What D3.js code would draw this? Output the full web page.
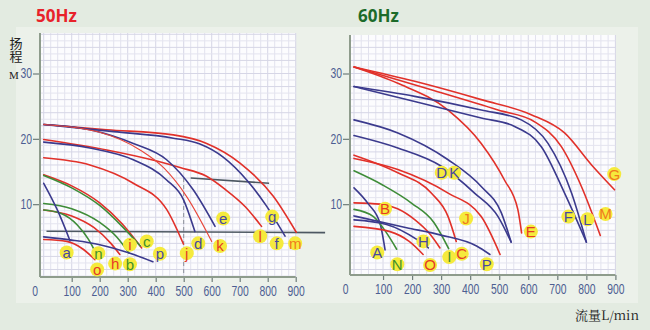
<!DOCTYPE html>
<html><head><meta charset="utf-8">
<script src="https://cdn.jsdelivr.net/npm/d3@7/dist/d3.min.js"></script>
<style>
body{margin:0;background:#e3ebe1;}
svg{display:block;}
</style></head><body>
<svg id="chart" width="650" height="330"></svg>
<script>
// ---------- data ----------
const qTicks = [0,100,200,300,400,500,600,700,800,900];
const hTicks = [10,20,30];
const panelTitles = ["50Hz","60Hz"];
const yTitle = ["扬程","M"];
const xTitle = "流量L/min";

// 50Hz curves (Q L/min, H m)
const hz50Names = ["m","f","l","e","k","d","j","i","c","b","h","n","o","p","a"];
const hz50Kinds = ["red","blue","red","blue","redThin","blue","red","red","green","green","red","green","red","blue","blue"];
const hz50Curves = [
  [[0,22.2],[225,21.4],[463,20.6],[582,19.3],[701,16.3],[820,11.2],[902,5.7]],
  [[0,22.2],[250,21.1],[463,20.1],[558,19.2],[641,17.2],[725,13.7],[796,9.7],[862,5.1]],
  [[0,19.9],[225,18.3],[404,16.6],[487,15.6],[580,14.3],[647,12.3],[720,9.6],[778,6.6]],
  [[0,22.2],[165,21.4],[320,19.3],[439,16.8],[534,12.2],[612,6.6]],
  [[0,22.2],[200,21.0],[344,18.3],[430,15.5],[510,11.2],[600,4.3]],
  [[0,19.5],[165,18.6],[320,16.8],[439,13.7],[499,10.7],[540,5.8]],
  [[0,17.1],[165,16.0],[320,13.2],[439,9.2],[499,3.9]],
  [[0,14.5],[100,12.8],[200,10.2],[280,7.0],[350,3.3]],
  [[0,14.4],[100,12.5],[200,9.8],[280,6.6],[345,3.6]],
  [[0,10.1],[100,9.3],[200,7.2],[260,5.0],[305,2.5]],
  [[0,9.1],[100,8.2],[180,6.4],[240,4.0],[272,2.3]],
  [[0,9.1],[60,8.6],[120,6.8],[160,4.6],[190,2.2]],
  [[0,4.6],[82,4.3],[141,3.1],[183,1.5]],
  [[0,5.0],[100,4.5],[200,3.8],[300,2.6],[390,1.2]],
  [[0,13.2],[50,9.0],[94,4.4]]
];
const hz50Labels = ["a","n","o","h","b","i","c","p","j","d","k","e","l","g","f","m"];
const hz50LabelKinds = ["blue","green","red","red","green","red","green","blue","red","blue","red","blue","red","blue","blue","orange"];
const hz50LabelQ = [82,195,191,255,308,308,368,415,511,552,630,641,773,816,832,898];
const hz50LabelH = [2.6,2.5,0.0,0.9,0.8,3.8,4.3,2.4,2.5,4.0,3.6,7.8,5.1,8.1,4.0,4.0];

// 60Hz curves
const hz60Names = ["G","M","E","F","L","D","K","J","C","I","B","A","N","P","H","O"];
const hz60Kinds = ["red","red","red","blue","blue","blue","blue","red","red","green","red","blue","green","blue","blue","red"];
const hz60Curves = [
  [[0,31.0],[209,28.8],[438,26.0],[610,23.7],[725,20.9],[818,16.0],[897,12.2]],
  [[0,31.0],[266,27.5],[496,24.4],[622,22.6],[714,18.8],[783,12.7],[848,5.2]],
  [[0,31.0],[151,28.5],[324,24.4],[438,19.3],[518,13.7],[564,9.2],[577,5.6]],
  [[0,28.0],[209,26.5],[438,24.4],[576,22.9],[668,19.3],[749,11.7],[800,4.2]],
  [[0,28.0],[209,25.7],[438,23.2],[553,21.9],[645,18.8],[725,11.7],[800,4.2]],
  [[0,22.9],[151,20.9],[324,16.8],[438,12.7],[507,8.7],[541,4.2]],
  [[0,20.5],[151,18.6],[301,15.8],[415,11.7],[496,8.1],[541,4.2]],
  [[0,17.0],[151,15.3],[324,11.7],[438,8.1],[503,2.3]],
  [[0,17.5],[151,14.8],[266,11.7],[324,8.1],[352,4.3]],
  [[0,15.1],[100,12.9],[200,10.1],[275,7.2],[326,3.2]],
  [[0,10.2],[90,10.0],[150,9.3],[210,7.6],[260,5.5],[296,3.3]],
  [[0,12.5],[50,10.0],[90,7.0],[107,3.0]],
  [[0,9.2],[67,8.1],[112,5.6],[147,3.1]],
  [[0,8.2],[181,6.4],[296,5.3],[422,3.6],[468,2.3]],
  [[0,7.6],[112,6.9],[216,4.6],[256,3.3]],
  [[0,6.6],[124,5.8],[190,4.3],[238,2.3]]
];
const hz60Labels = ["A","N","B","H","O","I","C","P","J","D","K","E","F","L","M","G"];
const hz60LabelKinds = ["blue","green","red","blue","red","green","red","blue","orange","blue","blue","red","blue","blue","orange","orange"];
const hz60LabelQ = [80,149,107,239,262,328,371,457,386,302,345,609,738,804,866,896];
const hz60LabelH = [2.6,0.8,9.3,4.3,0.7,1.9,2.4,0.8,7.8,14.8,14.8,5.8,8.1,7.7,8.5,14.6];

// stray marks on the 50Hz sheet (data units)
const hz50Marks = [
  {q1:10,h1:5.85,q2:1005,h2:5.65,dash:null},
  {q1:525,h1:14.0,q2:805,h2:13.2,dash:null},
  {q1:500,h1:14.0,q2:500,h2:-1.0,dash:"4,3"}
];

// ---------- styles ----------
const lineColor = {red:"#e1312a", redThin:"#e8463a", blue:"#3b3a8d", green:"#3e8c38"};
const textColor = {red:"#e63a26", orange:"#f07a1c", blue:"#4848a0", green:"#3f8f2c"};

const svg = d3.select("#chart");

svg.append("rect").attr("x",16).attr("y",27).attr("width",308).attr("height",276).attr("fill","#ecf1ea");
svg.append("rect").attr("x",324).attr("y",27).attr("width",314).attr("height",276).attr("fill","#ecf1ea");

const panels = [
  {title:panelTitles[0], titleColor:"#e8222a", tx:36, axisX:40, axisTop:33, axisBottom:277,
   x:d3.scaleLinear().domain([0,900]).range([43.7,295.7]),
   y:d3.scaleLinear().domain([0,30]).range([269.5,73.5]),
   names:hz50Names, kinds:hz50Kinds, curves:hz50Curves,
   labels:hz50Labels, labelKinds:hz50LabelKinds, lq:hz50LabelQ, lh:hz50LabelH, marks:hz50Marks, plotLeft:41},
  {title:panelTitles[1], titleColor:"#1c6b2a", tx:358, axisX:350, axisTop:35, axisBottom:275,
   x:d3.scaleLinear().domain([0,900]).range([354,615.4]),
   y:d3.scaleLinear().domain([0,30]).range([269.5,73.5]),
   names:hz60Names, kinds:hz60Kinds, curves:hz60Curves,
   labels:hz60Labels, labelKinds:hz60LabelKinds, lq:hz60LabelQ, lh:hz60LabelH, marks:[], plotLeft:351}
];

panels.forEach(p=>{
  const g = svg.append("g");
  const x0 = p.plotLeft, x1 = p.x(900);
  const yTop = p.axisTop, yBot = p.axisBottom;
  g.append("rect").attr("x",x0).attr("y",yTop).attr("width",x1-x0).attr("height",yBot-yTop).attr("fill","#fcfcfe");
  const grid = g.append("g");
  d3.range(0,901,25).forEach(q=>{
    grid.append("line").attr("x1",p.x(q)).attr("x2",p.x(q)).attr("y1",yTop).attr("y2",yBot)
      .attr("stroke", q%100===0 ? "#d6d6e6" : "#e2e2ee").attr("stroke-width",1);
  });
  d3.range(-1,37,1).forEach(h=>{
    const yy = p.y(h);
    if(yy<yTop||yy>yBot) return;
    grid.append("line").attr("x1",x0).attr("x2",x1).attr("y1",yy).attr("y2",yy)
      .attr("stroke", h%2===0 ? "#d6d6e6" : "#e4e4ef").attr("stroke-width",1);
  });

  p.marks.forEach(m=>{
    g.append("line").attr("x1",p.x(m.q1)).attr("y1",p.y(m.h1)).attr("x2",p.x(m.q2)).attr("y2",p.y(m.h2))
      .attr("stroke", m.dash ? "#8a8f98" : "#4d5862").attr("stroke-width", m.dash?1:1.6)
      .attr("stroke-dasharray", m.dash);
  });

  const line = d3.line().x(d=>p.x(d[0])).y(d=>p.y(d[1])).curve(d3.curveMonotoneX);
  p.curves.forEach((c,i)=>{
    const k = p.kinds[i];
    g.append("path").attr("d",line(c)).attr("fill","none")
      .attr("stroke",lineColor[k]).attr("stroke-width", k==="redThin"?1.1:1.6)
      .attr("stroke-linecap","round");
  });

  const yAxis = d3.axisLeft(p.y).tickValues(hTicks).tickSize(7).tickPadding(1).tickSizeOuter(0);
  const ya = g.append("g").attr("transform",`translate(${p.axisX},0)`).call(yAxis);
  ya.select(".domain").remove();
  ya.selectAll(".tick line").attr("stroke","#6f7d7a").attr("stroke-width",1.2);
  ya.selectAll(".tick text").attr("fill","#4d5e92").attr("font-size",14)
    .attr("font-family","Liberation Sans, Arial, sans-serif")
    .attr("x",-8/0.74).attr("transform","scale(0.74,1)");
  g.append("line").attr("x1",p.axisX).attr("x2",p.axisX).attr("y1",yTop).attr("y2",yBot)
    .attr("stroke","#8e9c8c").attr("stroke-width",2);

  const xAxis = d3.axisBottom(p.x).tickValues(qTicks).tickSize(5).tickPadding(4).tickSizeOuter(0);
  const xa = g.append("g").attr("transform",`translate(0,${yBot})`).call(xAxis);
  xa.select(".domain").remove();
  xa.selectAll(".tick line").attr("stroke","#6f7d7a").attr("stroke-width",1.2)
    .attr("opacity",d=>d===0?0:1);
  xa.selectAll(".tick text").attr("fill","#4d5e92").attr("font-size",14)
    .attr("font-family","Liberation Sans, Arial, sans-serif")
    .attr("x",d=>d===0?-9/0.74:0).attr("transform","scale(0.74,1)");
  g.append("line").attr("x1",p.axisX).attr("x2",x1).attr("y1",yBot).attr("y2",yBot)
    .attr("stroke","#8e9c8c").attr("stroke-width",2);

  const lg = g.append("g");
  p.labels.forEach((t,i)=>{
    const cx = p.x(p.lq[i]), cy = p.y(p.lh[i]);
    lg.append("circle").attr("cx",cx).attr("cy",cy).attr("r",7).attr("fill","#f5ea3c");
    lg.append("text").attr("x",cx).attr("y",cy).attr("dy","0.36em").attr("text-anchor","middle")
      .attr("font-family","Liberation Sans, Arial, sans-serif").attr("font-size",15)
      .attr("fill",textColor[p.labelKinds[i]]).text(t);
  });

  svg.append("text").attr("x",p.tx).attr("y",22).attr("font-family","Noto Sans, DejaVu Sans, sans-serif")
    .attr("font-weight","bold").attr("font-size",17).attr("fill",p.titleColor).text(p.title);
});

// y title (vertical, one text)
svg.append("text").attr("x",16).attr("y",37).attr("writing-mode","vertical-rl")
  .attr("font-size",13).attr("letter-spacing",0)
  .attr("font-family","Noto Sans CJK SC, sans-serif").attr("fill","#222").text(yTitle[0]);
svg.append("text").attr("x",14).attr("y",79).attr("text-anchor","middle").attr("font-size",11)
  .attr("font-family","Liberation Serif, serif").attr("fill","#222").text(yTitle[1]);

svg.append("text").attr("x",575).attr("y",320).attr("font-size",13)
  .attr("font-family","Noto Serif CJK SC, Noto Sans CJK SC, Liberation Serif, serif").attr("fill","#222").text(xTitle);
</script>
</body></html>
